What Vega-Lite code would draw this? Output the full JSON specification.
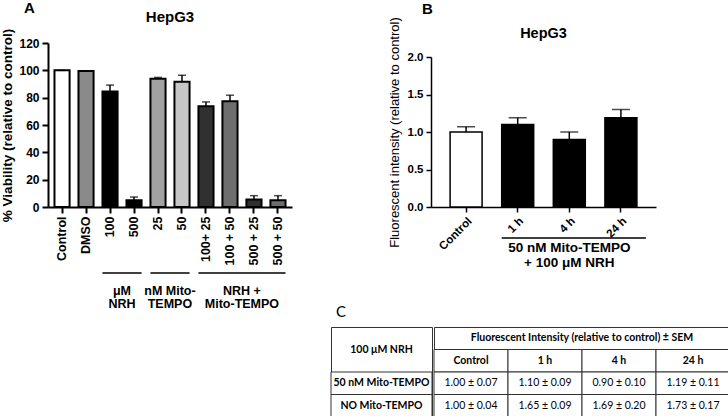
{
  "$schema": "https://vega.github.io/schema/vega-lite/v6.json",
  "padding": {"left": 0, "top": 1, "right": 0, "bottom": 0},
  "config": {
    "view": {"stroke": null},
    "font": "Liberation Sans",
    "axis": {"domainColor": "black", "tickColor": "black", "labelColor": "black", "titleColor": "black", "grid": false},
    "title": {"color": "black"}
  },
  "datasets": {
    "viability": [
      {"cond": "Control", "mean": 100, "hi": 100},
      {"cond": "DMSO", "mean": 99.5, "hi": 99.5},
      {"cond": "100", "mean": 84.6, "hi": 89.2},
      {"cond": "500", "mean": 5.0, "hi": 7.3},
      {"cond": "25", "mean": 93.8, "hi": 94.8},
      {"cond": "50", "mean": 91.6, "hi": 96.4},
      {"cond": "100+ 25", "mean": 73.8, "hi": 76.9},
      {"cond": "100 + 50", "mean": 77.4, "hi": 81.8},
      {"cond": "500 + 25", "mean": 5.4, "hi": 8.3},
      {"cond": "500 + 50", "mean": 5.0, "hi": 8.3}
    ],
    "viabilityGroups": [
      {"label": "μM\nNRH", "from": "100", "to": "500", "mid": "100"},
      {"label": "nM Mito-\nTEMPO", "from": "25", "to": "50", "mid": "25"},
      {"label": "NRH +\nMito-TEMPO", "from": "100+ 25", "to": "500 + 50", "mid": "100 + 50"}
    ],
    "fluor": [
      {"time": "Control", "mean": 1.00, "hi": 1.07},
      {"time": "1 h", "mean": 1.10, "hi": 1.19},
      {"time": "4 h", "mean": 0.90, "hi": 1.00},
      {"time": "24 h", "mean": 1.19, "hi": 1.30}
    ],
    "fluorGroups": [
      {"label": "50 nM Mito-TEMPO\n+ 100 μM NRH", "from": "1 h", "to": "24 h", "mid": "4 h"}
    ],
    "tableRows": [
      {"row": "50 nM Mito-TEMPO"},
      {"row": "NO Mito-TEMPO"}
    ],
    "tableCorner": [
      {"text": "100 μM NRH", "row": "h2"}
    ],
    "tableSpan": [
      {"text": "Fluorescent Intensity (relative to control) ± SEM", "row": "h1", "col": "4 h"}
    ],
    "tableCols": [
      {"col": "Control", "row": "h2"},
      {"col": "1 h", "row": "h2"},
      {"col": "4 h", "row": "h2"},
      {"col": "24 h", "row": "h2"}
    ],
    "tableVals": [
      {"row": "50 nM Mito-TEMPO", "col": "Control", "value": "1.00 ± 0.07"},
      {"row": "50 nM Mito-TEMPO", "col": "1 h", "value": "1.10 ± 0.09"},
      {"row": "50 nM Mito-TEMPO", "col": "4 h", "value": "0.90 ± 0.10"},
      {"row": "50 nM Mito-TEMPO", "col": "24 h", "value": "1.19 ± 0.11"},
      {"row": "NO Mito-TEMPO", "col": "Control", "value": "1.00 ± 0.04"},
      {"row": "NO Mito-TEMPO", "col": "1 h", "value": "1.65 ± 0.09"},
      {"row": "NO Mito-TEMPO", "col": "4 h", "value": "1.69 ± 0.20"},
      {"row": "NO Mito-TEMPO", "col": "24 h", "value": "1.73 ± 0.17"}
    ]
  },
  "spacing": -6,
  "vconcat": [
    {
      "spacing": 96,
      "hconcat": [
        {
          "title": {"text": "A", "anchor": "start", "fontSize": 15, "fontWeight": "bold", "dx": 23, "offset": -6},
          "bounds": "flush",
          "spacing": 66,
          "vconcat": [
            {
              "width": 244,
              "height": 164,
              "title": {"text": "HepG3", "fontSize": 15, "fontWeight": "bold", "offset": 3},
              "data": {"name": "viability"},
              "encoding": {
                "x": {"field": "cond", "type": "nominal", "sort": null,
                  "scale": {"paddingInner": 0.37, "paddingOuter": 0.27},
                  "axis": {"title": null, "labelAngle": -90, "labelFontSize": 12.5, "labelFontWeight": "bold", "labelPadding": 3, "tickSize": 6, "tickWidth": 2, "domainWidth": 2}},
                "y": {"field": "mean", "type": "quantitative",
                  "scale": {"domain": [0, 120], "nice": false},
                  "axis": {"title": "% Viability (relative to control)", "titleFontSize": 13.5, "titleFontWeight": "bold", "titlePadding": 4, "values": [0, 20, 40, 60, 80, 100, 120], "labelFontSize": 12, "labelFontWeight": "bold", "labelPadding": 3, "tickSize": 6, "tickWidth": 2, "domainWidth": 2}}
              },
              "layer": [
                {
                  "mark": {"type": "bar", "stroke": "black", "strokeWidth": 2},
                  "encoding": {
                    "fill": {"field": "cond", "type": "nominal", "legend": null,
                      "scale": {"domain": ["Control", "DMSO", "100", "500", "25", "50", "100+ 25", "100 + 50", "500 + 25", "500 + 50"],
                        "range": ["#ffffff", "#8a8a8a", "#000000", "#000000", "#a2a2a2", "#c6c6c6", "#303030", "#6e6e6e", "#303030", "#6e6e6e"]}}
                  }
                },
                {
                  "mark": {"type": "rule", "strokeWidth": 1.5, "color": "black"},
                  "encoding": {"y2": {"field": "hi"}}
                },
                {
                  "mark": {"type": "tick", "thickness": 1.5, "size": 8, "color": "black"},
                  "encoding": {"y": {"field": "hi", "type": "quantitative", "title": "% Viability (relative to control)"}}
                }
              ]
            },
            {
              "width": 244,
              "height": 34,
              "data": {"name": "viabilityGroups"},
              "layer": [
                {
                  "mark": {"type": "rule", "strokeWidth": 1.5, "color": "black"},
                  "encoding": {
                    "x": {"field": "from", "type": "nominal", "bandPosition": 0,
                      "scale": {"domain": ["Control", "DMSO", "100", "500", "25", "50", "100+ 25", "100 + 50", "500 + 25", "500 + 50"], "paddingInner": 0.37, "paddingOuter": 0.27},
                      "axis": null},
                    "x2": {"field": "to", "bandPosition": 1},
                    "y": {"datum": 1, "type": "quantitative", "scale": {"domain": [0, 1]}, "axis": null}
                  }
                },
                {
                  "mark": {"type": "text", "fontSize": 12.5, "fontWeight": "bold", "baseline": "top", "lineBreak": "\n", "lineHeight": 12.5, "dy": 12, "color": "black"},
                  "encoding": {
                    "x": {"field": "mid", "type": "nominal", "bandPosition": 1.29},
                    "y": {"datum": 1, "type": "quantitative"},
                    "text": {"field": "label"}
                  }
                }
              ]
            }
          ]
        },
        {
          "title": {"text": "B", "anchor": "start", "fontSize": 15, "fontWeight": "bold", "dx": 34, "offset": 0},
          "bounds": "flush",
          "spacing": 31,
          "vconcat": [
            {
              "width": 225,
              "height": 164,
              "title": {"text": "HepG3", "fontSize": 14.5, "fontWeight": "bold", "offset": -25},
              "data": {"name": "fluor"},
              "encoding": {
                "x": {"field": "time", "type": "nominal", "sort": null,
                  "scale": {"paddingInner": 0.38, "paddingOuter": 0.37},
                  "axis": {"title": null, "labelAngle": -45, "labelFontSize": 11.5, "labelFontWeight": "bold", "labelPadding": 3, "tickSize": 5, "tickWidth": 1.5, "domainWidth": 1.5}},
                "y": {"field": "mean", "type": "quantitative",
                  "scale": {"domain": [0, 2], "nice": false, "range": [164, 14]},
                  "axis": {"title": "Fluorescent intensity (relative to control)", "titleFontSize": 13, "titleFontWeight": "normal", "titlePadding": 6, "values": [0, 0.5, 1, 1.5, 2], "format": ".1f", "labelFontSize": 11.5, "labelFontWeight": "bold", "labelPadding": 3, "tickSize": 5, "tickWidth": 1.5, "domainWidth": 1.5}}
              },
              "layer": [
                {
                  "mark": {"type": "bar", "stroke": "black", "strokeWidth": 1.5},
                  "encoding": {
                    "fill": {"condition": {"test": "datum.time === 'Control'", "value": "#ffffff"}, "value": "#000000"}
                  }
                },
                {
                  "mark": {"type": "rule", "strokeWidth": 1.5, "color": "black"},
                  "encoding": {"y2": {"field": "hi"}}
                },
                {
                  "mark": {"type": "tick", "thickness": 1.5, "size": 18, "color": "black"},
                  "encoding": {"y": {"field": "hi", "type": "quantitative", "title": "Fluorescent intensity (relative to control)"}}
                }
              ]
            },
            {
              "width": 225,
              "height": 30,
              "data": {"name": "fluorGroups"},
              "layer": [
                {
                  "mark": {"type": "rule", "strokeWidth": 1.5, "color": "black"},
                  "encoding": {
                    "x": {"field": "from", "type": "nominal", "bandPosition": 0,
                      "scale": {"domain": ["Control", "1 h", "4 h", "24 h"], "paddingInner": 0.38, "paddingOuter": 0.37},
                      "axis": null},
                    "x2": {"field": "to", "bandPosition": 1.28},
                    "y": {"datum": 1, "type": "quantitative", "scale": {"domain": [0, 1]}, "axis": null}
                  }
                },
                {
                  "mark": {"type": "text", "fontSize": 13.5, "fontWeight": "bold", "baseline": "top", "lineBreak": "\n", "lineHeight": 15, "dy": 3, "color": "black"},
                  "encoding": {
                    "x": {"field": "mid", "type": "nominal", "bandPosition": 0.5},
                    "y": {"datum": 1, "type": "quantitative"},
                    "text": {"field": "label"}
                  }
                }
              ]
            }
          ]
        }
      ]
    },
    {
      "spacing": 0,
      "hconcat": [
        {
          "width": 282,
          "height": 90,
          "data": {"values": [{}]},
          "mark": {"type": "point", "opacity": 0},
          "encoding": {}
        },
        {
          "width": 101,
          "height": 90,
          "view": {"stroke": "#333333", "strokeWidth": 1},
          "title": {"text": "C", "anchor": "start", "frame": "group", "font": "Lato", "fontSize": 15, "fontWeight": "normal", "dx": 5, "offset": 7},
          "layer": [
            {
              "data": {"name": "tableRows"},
              "mark": {"type": "rect", "fill": "white", "stroke": "#333333", "strokeWidth": 1},
              "encoding": {
                "y": {"field": "row", "type": "nominal", "scale": {"domain": ["h1", "h2", "50 nM Mito-TEMPO", "NO Mito-TEMPO"], "paddingInner": 0, "paddingOuter": 0}, "axis": null}
              }
            },
            {
              "data": {"name": "tableRows"},
              "mark": {"type": "text", "font": "Lato", "fontSize": 10.5, "fontWeight": "bold", "color": "black"},
              "encoding": {
                "y": {"field": "row", "type": "nominal"},
                "text": {"field": "row"}
              }
            },
            {
              "data": {"name": "tableCorner"},
              "mark": {"type": "text", "font": "Lato", "fontSize": 10.5, "fontWeight": "bold", "color": "black"},
              "encoding": {
                "y": {"field": "row", "type": "nominal", "bandPosition": 0},
                "text": {"field": "text"}
              }
            }
          ]
        },
        {
          "width": 296,
          "height": 90,
          "view": {"stroke": "#333333", "strokeWidth": 1},
          "encoding": {
            "x": {"field": "col", "type": "nominal", "scale": {"domain": ["Control", "1 h", "4 h", "24 h"], "paddingInner": 0, "paddingOuter": 0}, "axis": null},
            "y": {"field": "row", "type": "nominal", "scale": {"domain": ["h1", "h2", "50 nM Mito-TEMPO", "NO Mito-TEMPO"], "paddingInner": 0, "paddingOuter": 0}, "axis": null}
          },
          "layer": [
            {
              "data": {"name": "tableCols"},
              "mark": {"type": "rect", "fill": "white", "stroke": "#333333", "strokeWidth": 1}
            },
            {
              "data": {"name": "tableVals"},
              "mark": {"type": "rect", "fill": "white", "stroke": "#333333", "strokeWidth": 1}
            },
            {
              "data": {"name": "tableCols"},
              "mark": {"type": "text", "font": "Lato", "fontSize": 10.5, "fontWeight": "bold", "color": "black"},
              "encoding": {"text": {"field": "col"}}
            },
            {
              "data": {"name": "tableVals"},
              "mark": {"type": "text", "font": "Lato", "fontSize": 10.5, "fontWeight": "normal", "color": "black"},
              "encoding": {"text": {"field": "value"}}
            },
            {
              "data": {"name": "tableSpan"},
              "mark": {"type": "text", "font": "Lato", "fontSize": 10.5, "fontWeight": "bold", "color": "black"},
              "encoding": {
                "x": {"field": "col", "type": "nominal", "bandPosition": 0},
                "text": {"field": "text"}
              }
            }
          ]
        }
      ]
    }
  ]
}
